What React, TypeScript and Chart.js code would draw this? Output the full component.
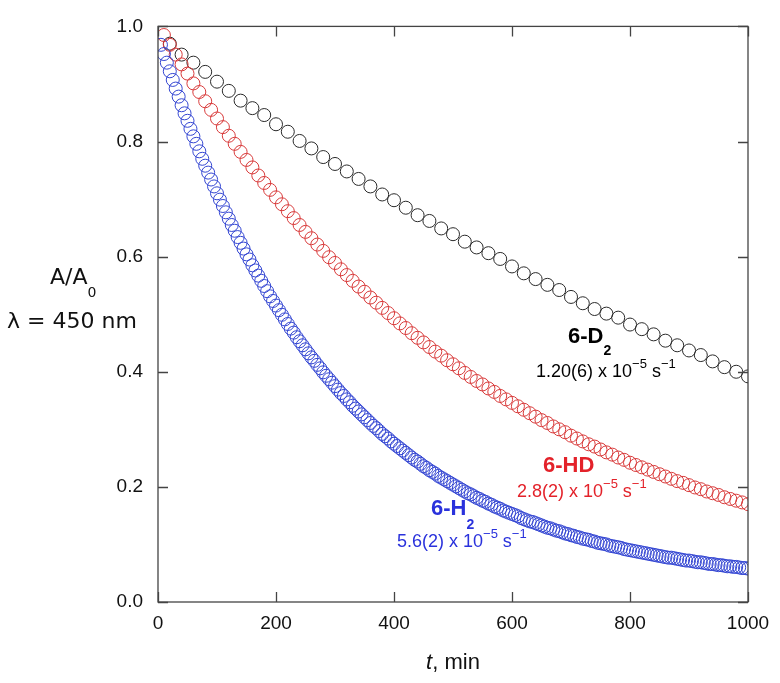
import React, { useEffect, useRef } from "react";
import { Chart, registerables } from "chart.js";

Chart.register(...registerables);

// ---------- data ----------
const xTicks = [0, 200, 400, 600, 800, 1000];
const yTicks = [0, 0.2, 0.4, 0.6, 0.8, 1.0];

// 6-D2 : sampled every 20 min, starting at 20 min
const d2Start = 20;
const d2Step = 20;
const d2Values = [
  0.970, 0.951, 0.937, 0.921, 0.904, 0.888, 0.871, 0.858, 0.846, 0.830,
  0.817, 0.801, 0.788, 0.773, 0.761, 0.748, 0.735, 0.722, 0.708, 0.698,
  0.685, 0.672, 0.662, 0.649, 0.639, 0.626, 0.616, 0.606, 0.596, 0.583,
  0.571, 0.561, 0.551, 0.542, 0.530, 0.519, 0.509, 0.501, 0.494, 0.482,
  0.474, 0.465, 0.454, 0.446, 0.437, 0.429, 0.418, 0.408, 0.400, 0.392,
];

// 6-HD : sampled every 10 min, starting at 10 min
const hdStart = 10;
const hdStep = 10;
const hdValues = [
  0.985, 0.968, 0.951, 0.934, 0.918, 0.901, 0.886, 0.870, 0.855, 0.840,
  0.825, 0.810, 0.796, 0.782, 0.768, 0.755, 0.741, 0.728, 0.716, 0.703,
  0.691, 0.679, 0.667, 0.655, 0.643, 0.632, 0.621, 0.610, 0.599, 0.589,
  0.578, 0.568, 0.558, 0.548, 0.539, 0.529, 0.520, 0.511, 0.502, 0.493,
  0.484, 0.476, 0.467, 0.459, 0.451, 0.443, 0.435, 0.428, 0.420, 0.413,
  0.406, 0.398, 0.391, 0.384, 0.378, 0.371, 0.365, 0.358, 0.352, 0.346,
  0.340, 0.334, 0.328, 0.322, 0.316, 0.311, 0.305, 0.300, 0.295, 0.289,
  0.284, 0.279, 0.274, 0.270, 0.265, 0.260, 0.256, 0.251, 0.247, 0.242,
  0.238, 0.234, 0.230, 0.226, 0.222, 0.218, 0.214, 0.210, 0.207, 0.203,
  0.199, 0.196, 0.192, 0.189, 0.186, 0.182, 0.179, 0.176, 0.173, 0.170,
];

// 6-H2 : sampled every 5 min, starting at 5 min
const h2Start = 5;
const h2Step = 5;
const h2Values = [
  0.968, 0.952, 0.937, 0.922, 0.907, 0.892, 0.878, 0.863, 0.849, 0.836,
  0.822, 0.809, 0.796, 0.783, 0.770, 0.758, 0.746, 0.734, 0.722, 0.710,
  0.699, 0.688, 0.677, 0.666, 0.655, 0.645, 0.634, 0.624, 0.614, 0.604,
  0.595, 0.585, 0.576, 0.567, 0.558, 0.549, 0.540, 0.531, 0.523, 0.515,
  0.507, 0.499, 0.491, 0.483, 0.475, 0.468, 0.460, 0.453, 0.446, 0.439,
  0.432, 0.425, 0.419, 0.412, 0.406, 0.399, 0.393, 0.387, 0.381, 0.375,
  0.369, 0.363, 0.358, 0.352, 0.347, 0.341, 0.336, 0.331, 0.326, 0.321,
  0.316, 0.311, 0.306, 0.302, 0.297, 0.292, 0.288, 0.284, 0.279, 0.275,
  0.271, 0.267, 0.263, 0.259, 0.255, 0.251, 0.247, 0.244, 0.240, 0.236,
  0.233, 0.229, 0.226, 0.223, 0.219, 0.216, 0.213, 0.210, 0.207, 0.204,
  0.201, 0.198, 0.195, 0.192, 0.189, 0.187, 0.184, 0.181, 0.179, 0.176,
  0.174, 0.171, 0.169, 0.166, 0.164, 0.162, 0.159, 0.157, 0.155, 0.153,
  0.151, 0.149, 0.146, 0.144, 0.142, 0.140, 0.139, 0.137, 0.135, 0.133,
  0.131, 0.129, 0.128, 0.126, 0.124, 0.123, 0.121, 0.119, 0.118, 0.116,
  0.115, 0.113, 0.112, 0.110, 0.109, 0.108, 0.106, 0.105, 0.103, 0.102,
  0.101, 0.100, 0.098, 0.097, 0.096, 0.095, 0.094, 0.092, 0.091, 0.090,
  0.089, 0.088, 0.087, 0.086, 0.085, 0.084, 0.083, 0.082, 0.081, 0.080,
  0.079, 0.078, 0.077, 0.077, 0.076, 0.075, 0.074, 0.073, 0.072, 0.072,
  0.071, 0.070, 0.069, 0.069, 0.068, 0.067, 0.066, 0.066, 0.065, 0.064,
  0.064, 0.063, 0.062, 0.062, 0.061, 0.061, 0.060, 0.059, 0.059, 0.058,
];

const seriesNames = ["6-D2", "6-HD", "6-H2"];

// ---------- styles ----------
const W = 780;
const H = 683;
const AXIS = "#444";
const BLACK_PT = "#2a2a2a";
const RED_PT = "#d83a3a";
const BLUE_PT = "#3446d2";
const RED_TXT = "#e3222a";
const BLUE_TXT = "#2a32dc";
const SANS = '"Liberation Sans", Arial, sans-serif';
const DEJAVU = '"DejaVu Sans", Verdana, sans-serif';

const toPoints = (start: number, step: number, vals: number[]) =>
  vals.map((v, i) => ({ x: start + i * step, y: v }));

type Seg = { t: string; size: number; bold?: boolean; italic?: boolean; dy?: number; family?: string };

function drawRich(ctx: CanvasRenderingContext2D, x: number, y: number, segs: Seg[], color: string, align: "left" | "center" = "left") {
  ctx.save();
  ctx.fillStyle = color;
  ctx.textBaseline = "alphabetic";
  ctx.textAlign = "left";
  const fontOf = (s: Seg) =>
    `${s.italic ? "italic " : ""}${s.bold ? "bold " : ""}${s.size}px ${s.family || SANS}`;
  let total = 0;
  for (const s of segs) {
    ctx.font = fontOf(s);
    total += ctx.measureText(s.t).width;
  }
  let cx = align === "center" ? x - total / 2 : x;
  for (const s of segs) {
    ctx.font = fontOf(s);
    ctx.fillText(s.t, cx, y + (s.dy || 0));
    cx += ctx.measureText(s.t).width;
  }
  ctx.restore();
}

const decorPlugin = {
  id: "decor",
  afterDraw(chart: any) {
    const { ctx, chartArea: a, scales } = chart;
    const xs = scales.x;
    const ys = scales.y;
    ctx.save();
    ctx.strokeStyle = AXIS;
    ctx.lineWidth = 1.3;
    ctx.strokeRect(a.left, a.top, a.right - a.left, a.bottom - a.top);
    const TL = 10;
    ctx.beginPath();
    for (const v of xTicks) {
      const px = Math.round(xs.getPixelForValue(v)) + 0.5;
      ctx.moveTo(px, a.bottom);
      ctx.lineTo(px, a.bottom - TL);
      ctx.moveTo(px, a.top);
      ctx.lineTo(px, a.top + TL);
    }
    for (const v of yTicks) {
      const py = Math.round(ys.getPixelForValue(v)) + 0.5;
      ctx.moveTo(a.left, py);
      ctx.lineTo(a.left + TL, py);
      ctx.moveTo(a.right, py);
      ctx.lineTo(a.right - TL, py);
    }
    ctx.stroke();
    ctx.restore();

    // y axis title
    drawRich(ctx, 50, 284, [
      { t: "A/A", size: 22, family: DEJAVU },
      { t: "0", size: 14, dy: 13, family: DEJAVU },
    ], "#111");
    drawRich(ctx, 72, 328, [{ t: "λ = 450 nm", size: 22, family: DEJAVU }], "#111", "center");

    // x axis title
    const cx = (a.left + a.right) / 2;
    drawRich(ctx, cx, 669, [
      { t: "t", size: 22, italic: true },
      { t: ", min", size: 22 },
    ], "#111", "center");

    // annotations
    drawRich(ctx, 568, 343, [
      { t: "6-D", size: 22, bold: true },
      { t: "2", size: 14, bold: true, dy: 12 },
    ], "#000");
    drawRich(ctx, 536, 377, [
      { t: "1.20(6) x 10", size: 18 },
      { t: "−5", size: 13, dy: -9 },
      { t: " s", size: 18 },
      { t: "−1", size: 13, dy: -9 },
    ], "#000");

    drawRich(ctx, 543, 472, [{ t: "6-HD", size: 22, bold: true }], RED_TXT);
    drawRich(ctx, 517, 497, [
      { t: "2.8(2) x 10", size: 18 },
      { t: "−5", size: 13, dy: -9 },
      { t: " s", size: 18 },
      { t: "−1", size: 13, dy: -9 },
    ], RED_TXT);

    drawRich(ctx, 431, 515, [
      { t: "6-H", size: 22, bold: true },
      { t: "2", size: 14, bold: true, dy: 14 },
    ], BLUE_TXT);
    drawRich(ctx, 397, 547, [
      { t: "5.6(2) x 10", size: 18 },
      { t: "−5", size: 13, dy: -9 },
      { t: " s", size: 18 },
      { t: "−1", size: 13, dy: -9 },
    ], BLUE_TXT);
  },
};

export default function App() {
  const ref = useRef<HTMLCanvasElement | null>(null);

  useEffect(() => {
    if (!ref.current) return;
    const pt = (color: string) => ({
      showLine: false,
      pointStyle: "circle" as const,
      pointRadius: 6.5,
      pointBorderWidth: 1,
      borderColor: color,
      backgroundColor: "rgba(0,0,0,0)",
      pointBackgroundColor: "rgba(0,0,0,0)",
      pointBorderColor: color,
    });
    const chart = new Chart(ref.current, {
      type: "scatter",
      data: {
        datasets: [
          { label: seriesNames[2], data: toPoints(h2Start, h2Step, h2Values), ...pt(BLUE_PT) },
          { label: seriesNames[1], data: toPoints(hdStart, hdStep, hdValues), ...pt(RED_PT) },
          { label: seriesNames[0], data: toPoints(d2Start, d2Step, d2Values), ...pt(BLACK_PT) },
        ],
      },
      options: {
        animation: false,
        responsive: false,
        devicePixelRatio: 1,
        events: [],
        layout: { padding: { left: 0, right: 32, top: 21, bottom: 0 } },
        plugins: { legend: { display: false }, tooltip: { enabled: false } },
        scales: {
          x: {
            type: "linear",
            min: 0,
            max: 1000,
            afterBuildTicks: (s: any) => {
              s.ticks = xTicks.map((v) => ({ value: v }));
            },
            ticks: {
              color: "#111",
              font: { family: SANS, size: 19 },
              padding: 10,
              callback: (v: any) => String(v),
            },
            grid: { display: false, drawTicks: false },
            border: { display: false },
            afterFit: (s: any) => {
              s.height = 81;
            },
          },
          y: {
            type: "linear",
            min: 0,
            max: 1,
            afterBuildTicks: (s: any) => {
              s.ticks = yTicks.map((v) => ({ value: v }));
            },
            ticks: {
              color: "#111",
              font: { family: SANS, size: 19 },
              padding: 15,
              callback: (v: any) => Number(v).toFixed(1),
            },
            grid: { display: false, drawTicks: false },
            border: { display: false },
            afterFit: (s: any) => {
              s.width = 158;
            },
          },
        },
      },
      plugins: [decorPlugin],
    });
    return () => chart.destroy();
  }, []);

  return (
    <div style={{ position: "absolute", left: 0, top: 0, width: W, height: H, background: "#fff" }}>
      <canvas ref={ref} width={W} height={H} style={{ width: W, height: H, display: "block" }} />
    </div>
  );
}
